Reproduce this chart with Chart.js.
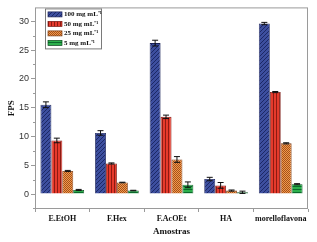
<!DOCTYPE html>
<html>
<head>
<meta charset="utf-8">
<script src="https://cdn.jsdelivr.net/npm/chart.js@4.4.1/dist/chart.umd.min.js"></script>
<style>
  html, body { margin: 0; padding: 0; background: #fff; }
  #wrap { width: 317px; height: 242px; }
</style>
</head>
<body>
<div id="wrap"><canvas id="fpsChart"></canvas></div>
<script>
const categories = ["E.EtOH", "F.Hex", "F.AcOEt", "HA", "morelloflavona"];
const seriesLabels = ["100 mg mL\u207B\u00B9", "50 mg mL\u207B\u00B9", "25 mg mL\u207B\u00B9", "5 mg mL\u207B\u00B9"];
const values100 = [15.5, 10.6, 26.2, 2.6, 29.6];
const values50 = [9.3, 5.3, 13.4, 1.5, 17.7];
const values25 = [4.0, 2.0, 6.0, 0.6, 8.8];
const values5 = [0.7, 0.6, 1.6, 0.3, 1.7];
const errors100 = [0.5, 0.4, 0.5, 0.3, 0.2];
const errors50 = [0.4, 0.1, 0.3, 0.5, 0.1];
const errors25 = [0.1, 0.05, 0.5, 0.1, 0.1];
const errors5 = [0.1, 0.05, 0.5, 0.2, 0.1];
const yTicks = [0, 5, 10, 15, 20, 25, 30];

function makePattern(kind) {
  const c = document.createElement("canvas");
  const g = c.getContext("2d");
  if (kind === "diag") {
    c.width = 4; c.height = 4;
    g.fillStyle = "#3d4f9f"; g.fillRect(0, 0, 4, 4);
    g.fillStyle = "#1c2866";
    for (let i = 0; i < 4; i++) g.fillRect(i, 3 - i, 1, 1);
  } else if (kind === "vert") {
    c.width = 3; c.height = 1;
    g.fillStyle = "#e63a2c"; g.fillRect(0, 0, 3, 1);
    g.fillStyle = "#8e1a12"; g.fillRect(0, 0, 1, 1);
  } else if (kind === "check") {
    c.width = 2; c.height = 2;
    g.fillStyle = "#f39a4a"; g.fillRect(0, 0, 2, 2);
    g.fillStyle = "#a4501c"; g.fillRect(0, 0, 1, 1); g.fillRect(1, 1, 1, 1);
  } else {
    c.width = 1; c.height = 3;
    g.fillStyle = "#2cb04c"; g.fillRect(0, 0, 1, 3);
    g.fillStyle = "#0b6a2c"; g.fillRect(0, 0, 1, 1);
  }
  return g.createPattern(c, "repeat");
}

const fills = [makePattern("diag"), makePattern("vert"), makePattern("check"), makePattern("horiz")];
const edges = ["#1a2258", "#7a140e", "#7a3a12", "#0a4a1e"];
const seriesValues = [values100, values50, values25, values5];
const seriesErrors = [errors100, errors50, errors25, errors5];

const errorBarPlugin = {
  id: "errorBars",
  afterDatasetsDraw(chart) {
    const ctx = chart.ctx;
    const y = chart.scales.y;
    ctx.save();
    ctx.strokeStyle = "#111";
    ctx.lineWidth = 1;
    chart.data.datasets.forEach((ds, d) => {
      chart.getDatasetMeta(d).data.forEach((bar, i) => {
        const v = ds.data[i];
        const e = seriesErrors[d][i];
        const top = y.getPixelForValue(v + e);
        const bot = y.getPixelForValue(v - e);
        ctx.beginPath();
        ctx.moveTo(bar.x, top); ctx.lineTo(bar.x, bot);
        ctx.moveTo(bar.x - 3, top); ctx.lineTo(bar.x + 3, top);
        ctx.moveTo(bar.x - 3, bot); ctx.lineTo(bar.x + 3, bot);
        ctx.stroke();
      });
    });
    ctx.restore();
  }
};

const framePlugin = {
  id: "frame",
  afterDraw(chart) {
    const ctx = chart.ctx;
    const a = chart.chartArea;
    const y = chart.scales.y;
    ctx.save();
    ctx.strokeStyle = "#9a9a9a";
    ctx.lineWidth = 1;
    ctx.strokeRect(a.left + 0.5, a.top + 0.5, a.right - a.left - 1, a.bottom - a.top - 1);
    // minor ticks on y
    ctx.beginPath();
    for (let v = -2.5; v < 32.5; v += 5) {
      const py = Math.round(y.getPixelForValue(v)) + 0.5;
      ctx.moveTo(a.left - 2, py); ctx.lineTo(a.left + 0.5, py);
    }
    ctx.stroke();

    // legend inside plot
    const lx = a.left + 10, ly = a.top + 1;
    const w = 56, h = 40;
    ctx.fillStyle = "#fff";
    ctx.fillRect(lx, ly, w, h);
    ctx.strokeStyle = "#7a7a7a";
    ctx.strokeRect(lx + 0.5, ly + 0.5, w, h);
    ctx.font = "bold 7px 'Liberation Serif', serif";
    ctx.textBaseline = "middle";
    chart.data.datasets.forEach((ds, d) => {
      const ry = ly + 6 + d * 9.5;
      ctx.fillStyle = fills[d];
      ctx.fillRect(lx + 3, ry - 2.5, 14, 5);
      ctx.strokeStyle = edges[d];
      ctx.lineWidth = 0.7;
      ctx.strokeRect(lx + 3, ry - 2.5, 14, 5);
      ctx.fillStyle = "#111";
      ctx.fillText(ds.label, lx + 19, ry);
    });
    ctx.restore();
  }
};

new Chart(document.querySelector("#fpsChart"), {
  type: "bar",
  data: {
    labels: categories,
    datasets: seriesLabels.map((label, d) => ({
      label,
      data: seriesValues[d],
      backgroundColor: fills[d],
      borderColor: edges[d],
      borderWidth: 0.8,
      categoryPercentage: 0.8,
      barPercentage: 1.0,
    })),
  },
  options: {
    responsive: true,
    maintainAspectRatio: false,
    animation: false,
    layout: { padding: { top: 6, right: 9, left: 0, bottom: 0 } },
    plugins: {
      legend: { display: false },
      tooltip: { enabled: false },
    },
    scales: {
      x: {
        afterFit(scale) { scale.height = 33; },
        border: { display: false },
        grid: { drawOnChartArea: false, tickLength: 3, color: "#9a9a9a", offset: true },
        ticks: {
          color: "#111",
          padding: 2,
          autoSkip: false,
          minRotation: 0,
          maxRotation: 0,
          font: { family: "Liberation Serif", weight: "bold", size: 8 },
        },
        title: {
          display: true,
          text: "Amostras",
          color: "#111",
          padding: { top: 0, bottom: 5 },
          font: { family: "Liberation Serif", weight: "bold", size: 9 },
        },
      },
      y: {
        min: -2.6,
        max: 32.4,
        afterFit(scale) { scale.width = 35; },
        afterBuildTicks(scale) { scale.ticks = yTicks.map((value) => ({ value })); },
        border: { display: false },
        grid: { drawOnChartArea: false, tickLength: 4, color: "#9a9a9a" },
        ticks: {
          color: "#333",
          padding: 2,
          font: { family: "Liberation Sans", size: 9 },
        },
        title: {
          display: true,
          text: "FPS",
          color: "#111",
          padding: { top: 6, bottom: 0 },
          font: { family: "Liberation Serif", weight: "bold", size: 9 },
        },
      },
    },
  },
  plugins: [errorBarPlugin, framePlugin],
});
</script>
</body>
</html>
